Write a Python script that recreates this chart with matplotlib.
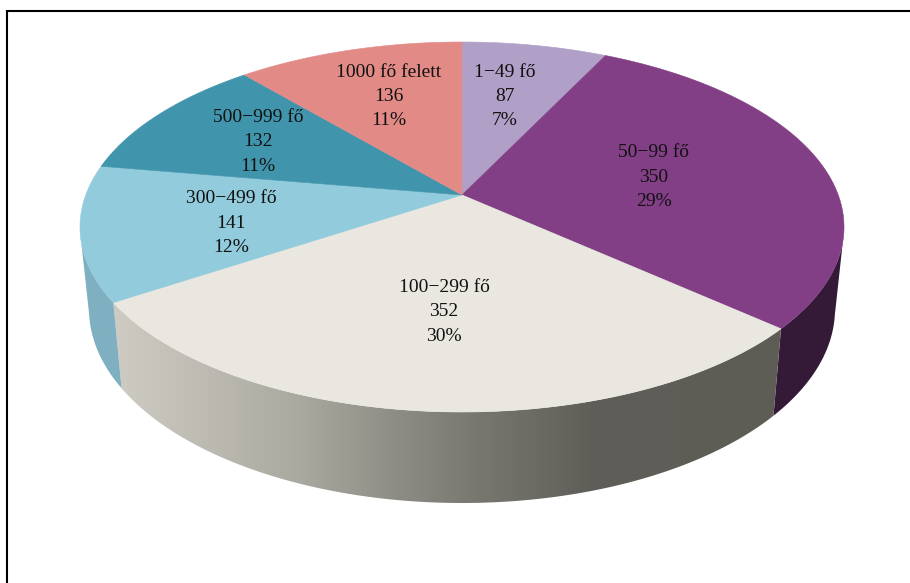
import numpy as np
import matplotlib
matplotlib.use("Agg")
import matplotlib.pyplot as plt
from matplotlib.colors import to_rgb
from matplotlib.patches import Polygon

# Size bands, head counts and the percentages as printed on the slices
categories = ["1−49 fő", "50−99 fő", "100−299 fő", "300−499 fő", "500−999 fő", "1000 fő felett"]
counts = [87, 350, 352, 141, 132, 136]
percent_labels = ["7%", "29%", "30%", "12%", "11%", "11%"]

top_colors = ["#b09fc6", "#823f85", "#e9e7e0", "#92cbdc", "#4095ad", "#e28a86"]
# Side wall shading per slice: (pixel x, colour) stops, shaded left to right
side_stops = [
    [(0, "#5c4a6a"), (910, "#5c4a6a")],
    [(0, "#341a37"), (910, "#341a37")],
    [(122, "#cdcac2"), (300, "#aaa9a0"), (400, "#8d8c84"), (480, "#78776f"), (590, "#5f5e58"), (773, "#5d5d56")],
    [(0, "#7fb0c1"), (910, "#7fb0c1")],
    [(0, "#2e6f82"), (910, "#2e6f82")],
    [(0, "#a96461"), (910, "#a96461")],
]
label_centres = [(505, 96.5), (654, 177), (444, 312), (231, 223), (258, 142), (389, 96.5)]

# Perspective disc geometry, in pixels
TOP = dict(cx=462, cy=227, rx=382, ry=185)
BOTTOM = dict(cx=462, cy=309, rx=373, ry=194)
APEX_SHIFT = 0.173
WALL_START_Y = 232


def rim(theta, e):
    """Rim point for a clockwise angle from 12 o'clock, with the perspective shift."""
    u, v = np.sin(theta), np.cos(theta)
    den = 1 + APEX_SHIFT * v
    up = u * np.sqrt(1 - APEX_SHIFT ** 2) / den
    vp = (v + APEX_SHIFT) / den
    return e["cx"] + e["rx"] * up, e["cy"] - e["ry"] * vp


apex = (TOP["cx"], TOP["cy"] - TOP["ry"] * APEX_SHIFT)
edges = np.concatenate([[0], np.cumsum(counts)]) / np.sum(counts) * 2 * np.pi

fig = plt.figure(figsize=(9.1, 5.83), dpi=100, facecolor="white")
ax = fig.add_axes([0, 0, 1, 1])

# Side walls first: a horizontal colour ramp clipped to each slice's visible rim
ramp_x = np.arange(910) + 0.5
for i in range(len(counts)):
    t = np.linspace(edges[i], edges[i + 1], 300)
    xt, yt = rim(t, TOP)
    keep = yt >= WALL_START_Y
    if keep.sum() < 2:
        continue
    xb, yb = rim(t[keep], BOTTOM)
    outline = np.column_stack([np.r_[xt[keep], xb[::-1]], np.r_[yt[keep], yb[::-1]]])
    wall = Polygon(outline, closed=True, facecolor="none", edgecolor="none", transform=ax.transData)
    ax.add_patch(wall)
    xs = [s[0] for s in side_stops[i]]
    rgb = np.array([to_rgb(s[1]) for s in side_stops[i]])
    ramp = np.stack([np.interp(ramp_x, xs, rgb[:, c]) for c in range(3)], axis=-1)[None, :, :]
    img = ax.imshow(ramp, extent=(0, 910, 583, 0), aspect="auto", interpolation="bilinear", zorder=1)
    img.set_clip_path(wall)

ax.set_xlim(0, 910)
ax.set_ylim(583, 0)
ax.axis("off")

for i in range(len(counts)):
    t = np.linspace(edges[i], edges[i + 1], 200)
    xt, yt = rim(t, TOP)
    pts = np.column_stack([np.r_[apex[0], xt], np.r_[apex[1], yt]])
    ax.add_patch(Polygon(pts, closed=True, facecolor=top_colors[i], edgecolor=top_colors[i],
                         linewidth=0.4, zorder=2))

for name, n, pct, (lx, ly) in zip(categories, counts, percent_labels, label_centres):
    ax.text(lx, ly, f"{name}\n{n}\n{pct}", ha="center", va="center", family="Liberation Serif",
            fontsize=14, linespacing=1.55, color="#111111", zorder=3)

# Frame: left and top rules only
ax.plot([6.5, 6.5, 910], [583, 10.5, 10.5], color="black", lw=1.5, solid_joinstyle="miter", zorder=3)

fig.savefig("out.png", dpi=100)
